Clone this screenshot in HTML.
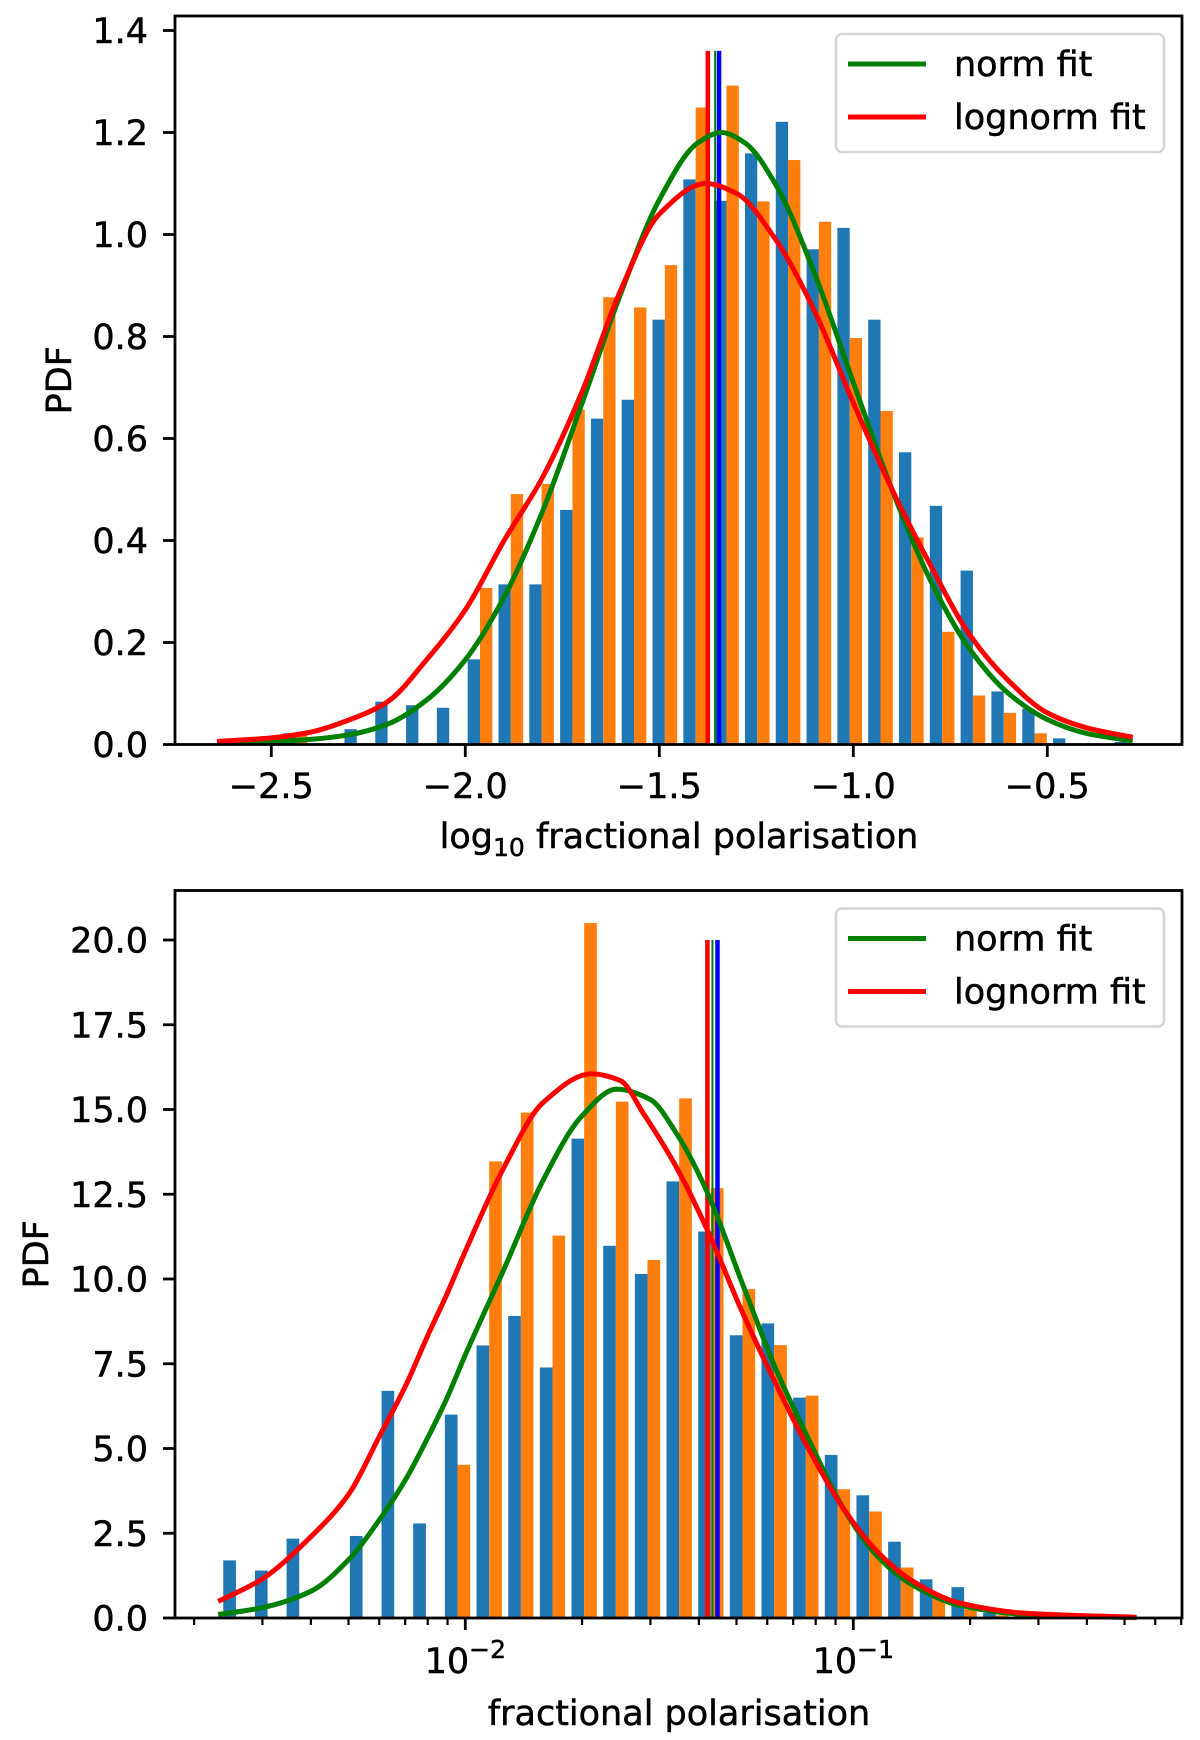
<!DOCTYPE html>
<html><head><meta charset="utf-8"><title>PDF histograms</title>
<style>
html,body{margin:0;padding:0;background:#fff;}
svg{display:block;font-family:"DejaVu Sans","Liberation Sans",sans-serif;}
text{stroke:#000;stroke-width:0.5px;}
</style></head>
<body>
<svg id="fig" width="1200" height="1740" viewBox="0 0 1200 1740" xmlns="http://www.w3.org/2000/svg"></svg>
<script>
// ---------- Top panel data ----------
const topBinStart = -2.637;
const topBinWidth = 0.0794;
const topBlue = [0.010,0,0.022,0,0.030,0.084,0.077,0.072,0.167,0.314,0.314,0.460,0.639,0.676,0.833,1.108,1.066,1.159,1.221,0.971,1.013,0.833,0.573,0.468,0.341,0.104,0.070,0.012,0,0.005];
const topOrange = [0,0,0.020,0,0,0,0,0,0.307,0.491,0.511,0.657,0.877,0.857,0.940,1.249,1.292,1.065,1.146,1.025,0.797,0.654,0.406,0.221,0.096,0.062,0.022,0,0,0];
const topNormX = [-2.64,-2.5,-2.4,-2.3,-2.2,-2.1,-2.0,-1.9,-1.8,-1.7,-1.6,-1.5,-1.4,-1.34,-1.28,-1.2,-1.1,-1.0,-0.9,-0.8,-0.7,-0.6,-0.5,-0.4,-0.28];
const topNormY = [0.003,0.006,0.010,0.019,0.040,0.087,0.166,0.289,0.459,0.667,0.883,1.068,1.180,1.200,1.180,1.098,0.924,0.710,0.499,0.320,0.187,0.100,0.049,0.022,0.007];
const topLogX = [-2.64,-2.5,-2.4,-2.3,-2.2,-2.1,-2.0,-1.9,-1.8,-1.7,-1.6,-1.5,-1.38,-1.3,-1.2,-1.1,-1.0,-0.9,-0.8,-0.7,-0.6,-0.5,-0.4,-0.28];
const topLogY = [0.006,0.013,0.024,0.048,0.084,0.166,0.264,0.400,0.525,0.690,0.890,1.040,1.100,1.080,0.990,0.850,0.670,0.500,0.350,0.215,0.125,0.062,0.033,0.014];
const topVLines = [-1.375,-1.356,-1.346];
const topVTop = 1.36;
const topYTicks = [0.0,0.2,0.4,0.6,0.8,1.0,1.2,1.4];
const topYTickLabels = ["0.0","0.2","0.4","0.6","0.8","1.0","1.2","1.4"];
const topXTicks = [-2.5,-2.0,-1.5,-1.0,-0.5];
const topXTickLabels = ["\u22122.5","\u22122.0","\u22121.5","\u22121.0","\u22120.5"];

// ---------- Bottom panel data (x values as log10 of fractional polarisation) ----------
const botBinStart = -2.632;
const botBinWidth = 0.0816;
const botBlue = [1.70,1.40,2.34,0,2.42,6.70,2.79,6.00,8.04,8.91,7.39,14.14,10.98,10.15,12.88,11.40,8.34,8.69,6.50,4.81,3.62,2.25,1.14,0.91,0.15,0.05,0.03,0,0,0];
const botOrange = [0,0,0,0,0,0,0,4.52,13.47,14.91,11.28,20.5,15.23,10.56,15.33,12.68,9.70,8.05,6.56,3.80,3.14,1.49,0.66,0.25,0.08,0.04,0.03,0.02,0.02,0.01];
const botNormLogX = [-2.637,-2.525,-2.396,-2.300,-2.220,-2.153,-2.098,-2.048,-2.0,-1.9,-1.8,-1.7,-1.61,-1.524,-1.456,-1.378,-1.284,-1.198,-1.112,-1.026,-0.940,-0.854,-0.725,-0.555,-0.27];
const botNormY = [0.10,0.30,0.80,1.73,2.92,4.10,5.29,6.47,7.76,10.3,12.9,14.8,15.6,15.3,14.3,12.6,9.81,7.30,5.20,3.24,1.85,1.02,0.37,0.10,0.01];
const botLogLogX = [-2.637,-2.525,-2.396,-2.300,-2.220,-2.153,-2.098,-2.048,-2.0,-1.9,-1.8,-1.675,-1.6,-1.542,-1.456,-1.378,-1.284,-1.198,-1.112,-1.026,-0.940,-0.854,-0.725,-0.555,-0.27];
const botLogY = [0.49,1.14,2.42,3.66,5.39,6.87,8.30,9.54,10.82,13.3,15.2,16.05,15.85,14.9,13.30,11.49,8.97,6.87,4.92,3.24,1.98,1.14,0.44,0.14,0.02];
const botVLines = [-1.376,-1.363,-1.350];
const botVTop = 20.0;
const botYTicks = [0,2.5,5,7.5,10,12.5,15,17.5,20];
const botYTickLabels = ["0.0","2.5","5.0","7.5","10.0","12.5","15.0","17.5","20.0"];
const botXMajor = [-2,-1];
const botXMajorExp = ["\u22122","\u22121"];
const botMinorMant = [2,3,4,5,6,7,8,9];
const botMinorDecades = [-3,-2,-1];

// ---------- Drawing ----------
const NS = "http://www.w3.org/2000/svg";
const svg = document.getElementById("fig");
function mk(tag, attrs, parent) {
  const e = document.createElementNS(NS, tag);
  for (const k in attrs) e.setAttribute(k, attrs[k]);
  (parent || svg).appendChild(e);
  return e;
}
const L = 175, R = 1182;
function X(v) { return 465.3 + 388 * (v + 2); }
const FS = 35;

// monotone cubic (Fritsch-Carlson) path through screen points
function smoothPath(pts) {
  const n = pts.length;
  const dx = [], sl = [];
  for (let i = 0; i < n - 1; i++) {
    dx.push(pts[i + 1][0] - pts[i][0]);
    sl.push((pts[i + 1][1] - pts[i][1]) / dx[i]);
  }
  const m = new Array(n);
  m[0] = sl[0]; m[n - 1] = sl[n - 2];
  for (let i = 1; i < n - 1; i++) {
    if (sl[i - 1] * sl[i] <= 0) m[i] = 0;
    else {
      const w1 = 2 * dx[i] + dx[i - 1], w2 = dx[i] + 2 * dx[i - 1];
      m[i] = (w1 + w2) / (w1 / sl[i - 1] + w2 / sl[i]);
    }
  }
  let d = "M" + pts[0][0] + "," + pts[0][1];
  for (let i = 0; i < n - 1; i++) {
    const h = dx[i] / 3;
    d += " C" + (pts[i][0] + h) + "," + (pts[i][1] + m[i] * h) + " " +
         (pts[i + 1][0] - h) + "," + (pts[i + 1][1] - m[i + 1] * h) + " " +
         pts[i + 1][0] + "," + pts[i + 1][1];
  }
  return d;
}

function panel(cfg) {
  const g = mk("g", {});
  
  
  const Y = v => cfg.y0 - cfg.ys * v;
  const bw = cfg.binWidth;
  cfg.blue.forEach((v, k) => {
    if (v <= 0) return;
    const e0 = cfg.binStart + k * bw;
    const r = mk("rect", {x: X(e0 + 0.1 * bw), y: Y(v), width: X(e0 + 0.5 * bw) - X(e0 + 0.1 * bw), height: Y(0) - Y(v), fill: "#1f77b4"}, g);
    
    
  });
  cfg.orange.forEach((v, k) => {
    if (v <= 0) return;
    const e0 = cfg.binStart + k * bw;
    const r = mk("rect", {x: X(e0 + 0.5 * bw), y: Y(v), width: X(e0 + 0.9 * bw) - X(e0 + 0.5 * bw), height: Y(0) - Y(v), fill: "#ff7f0e"}, g);
    
    
  });
  const vcol = ["#ff0000", "#008000", "#0000ff"];
  const vw = [4.5, 2, 4.5];
  cfg.vlines.forEach((v, i) => {
    const l = mk("line", {x1: X(v), x2: X(v), y1: Y(0), y2: Y(cfg.vtop), stroke: vcol[i], "stroke-width": vw[i]}, g);
    
    
  });
  const pn = mk("path", {d: smoothPath(cfg.normX.map((x, i) => [X(x), Y(cfg.normY[i])])), fill: "none", stroke: "#008000", "stroke-width": 5, "stroke-linejoin": "round"}, g);
  
  
  const pl = mk("path", {d: smoothPath(cfg.logX.map((x, i) => [X(x), Y(cfg.logY[i])])), fill: "none", stroke: "#ff0000", "stroke-width": 5, "stroke-linejoin": "round"}, g);
  
  
  const fr = mk("rect", {x: L, y: cfg.top, width: R - L, height: cfg.y0 - cfg.top, fill: "none", stroke: "#000", "stroke-width": 2.8}, g);
  
  
  cfg.yTicks.forEach((v, i) => {
    mk("line", {x1: L - 12, x2: L, y1: Y(v), y2: Y(v), stroke: "#000", "stroke-width": 2.8}, g);
    const t = mk("text", {x: 148, y: Y(v) + 12.5, "text-anchor": "end", "font-size": FS, fill: "#000"}, g);
    t.textContent = cfg.yTickLabels[i];
    
    
  });
  const lg = mk("g", {}, g);
  
  
  const lt = cfg.top + 18;
  mk("rect", {x: 836, y: lt, width: 328, height: 118, rx: 6, fill: "#fff", "fill-opacity": 0.8, stroke: "#d6d6d6", "stroke-width": 2.5}, lg);
  [["norm fit", "#008000", 30], ["lognorm fit", "#ff0000", 83]].forEach(e => {
    mk("line", {x1: 848, x2: 926, y1: lt + e[2], y2: lt + e[2], stroke: e[1], "stroke-width": 5}, lg);
    const t = mk("text", {x: 954, y: lt + e[2] + 12, "font-size": FS, fill: "#000"}, lg);
    t.textContent = e[0];
    
    
  });
  const yl = mk("text", {transform: "translate(" + cfg.ylabX + "," + ((cfg.top + cfg.y0) / 2) + ") rotate(-90)", "text-anchor": "middle", "font-size": FS, fill: "#000"}, g);
  yl.textContent = "PDF";
  
  
  return {g, Y};
}

const P1 = panel({name: "top-panel", top: 16, y0: 744.5, ys: 510, binStart: topBinStart, binWidth: topBinWidth,
  blue: topBlue, orange: topOrange, vlines: topVLines, vtop: topVTop, normX: topNormX, normY: topNormY,
  logX: topLogX, logY: topLogY, yTicks: topYTicks, yTickLabels: topYTickLabels, ylabX: 71});
topXTicks.forEach((v, i) => {
  mk("line", {x1: X(v), x2: X(v), y1: 744.5, y2: 757, stroke: "#000", "stroke-width": 2.8}, P1.g);
  const t = mk("text", {x: X(v), y: 798, "text-anchor": "middle", "font-size": FS, fill: "#000"}, P1.g);
  t.textContent = topXTickLabels[i];
  
  
});
const xl1 = mk("text", {x: 679, y: 848, "text-anchor": "middle", "font-size": FS, fill: "#000"}, P1.g);
xl1.innerHTML = 'log<tspan font-size="25" dy="8">10</tspan><tspan dy="-8"> fractional polarisation</tspan>';



const P2 = panel({name: "bottom-panel", top: 890.5, y0: 1618, ys: 33.9, binStart: botBinStart, binWidth: botBinWidth,
  blue: botBlue, orange: botOrange, vlines: botVLines, vtop: botVTop, normX: botNormLogX, normY: botNormY,
  logX: botLogLogX, logY: botLogY, yTicks: botYTicks, yTickLabels: botYTickLabels, ylabX: 48});
botMinorDecades.forEach(d => botMinorMant.forEach(m => {
  const lv = d + Math.log10(m);
  const x = X(lv);
  if (x < L || x > R + 1) return;
  mk("line", {x1: x, x2: x, y1: 1618, y2: 1625, stroke: "#000", "stroke-width": 2.2}, P2.g);
}));
botXMajor.forEach((v, i) => {
  mk("line", {x1: X(v), x2: X(v), y1: 1618, y2: 1630, stroke: "#000", "stroke-width": 2.8}, P2.g);
  const t = mk("text", {x: X(v), y: 1673, "text-anchor": "middle", "font-size": FS, fill: "#000"}, P2.g);
  t.innerHTML = '10<tspan font-size="25" dy="-15">' + botXMajorExp[i] + '</tspan>';
  
  
});
const xl2 = mk("text", {x: 679, y: 1725, "text-anchor": "middle", "font-size": FS, fill: "#000"}, P2.g);
xl2.textContent = "fractional polarisation";


</script>
</body></html>
